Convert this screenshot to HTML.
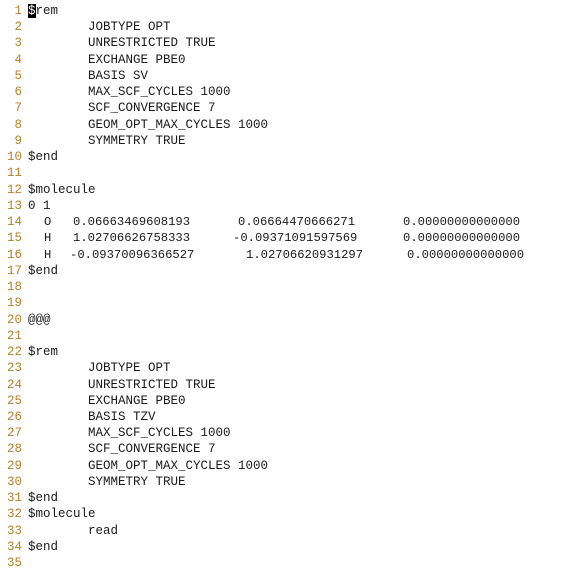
<!DOCTYPE html>
<html><head><meta charset="utf-8"><style>
html,body{margin:0;padding:0;background:#fff;width:573px;height:577px;overflow:hidden}
.l{position:absolute;left:0;height:16px;font-family:"Liberation Mono",monospace;font-size:12.5px;line-height:16px;color:#1a1a1a;white-space:pre}
.n{position:absolute;right:551px;color:#b5812e;text-align:right}
.t{position:absolute;left:28px}
.i{position:absolute;left:88px}
.m{position:absolute;font-size:12.2px}
.cur{background:#000;color:#fff}
</style></head><body>
<div id="c"></div>
<script>
var L=["<span class='cur'>$</span>rem","\tJOBTYPE OPT","\tUNRESTRICTED TRUE","\tEXCHANGE PBE0","\tBASIS SV","\tMAX_SCF_CYCLES 1000","\tSCF_CONVERGENCE 7","\tGEOM_OPT_MAX_CYCLES 1000","\tSYMMETRY TRUE","$end","","$molecule","0 1",
"M|O|0.06663469608193|73|0.06664470666271|238|0.00000000000000|403",
"M|H|1.02706626758333|73|-0.09371091597569|233|0.00000000000000|403",
"M|H|-0.09370096366527|70|1.02706620931297|246|0.00000000000000|407",
"$end","","","@@@","","$rem","\tJOBTYPE OPT","\tUNRESTRICTED TRUE","\tEXCHANGE PBE0","\tBASIS TZV","\tMAX_SCF_CYCLES 1000","\tSCF_CONVERGENCE 7","\tGEOM_OPT_MAX_CYCLES 1000","\tSYMMETRY TRUE","$end","$molecule","\tread","$end",""];
var h="";
for(var k=0;k<L.length;k++){
 var y=Math.round(3+k*16.24);var s=L[k];var body;
 if(s.indexOf("M|")==0){var p=s.split("|");
  body="<span class='m' style='left:44px'>"+p[1]+"</span><span class='m' style='left:"+p[3]+"px'>"+p[2]+"</span><span class='m' style='left:"+p[5]+"px'>"+p[4]+"</span><span class='m' style='left:"+p[7]+"px'>"+p[6]+"</span>";}
 else if(s[0]=="\t"){body="<span class='i'>"+s.slice(1)+"</span>";}
 else body="<span class='t'>"+s+"</span>";
 h+="<div class='l' style='top:"+y+"px;width:573px'><span class='n'>"+(k+1)+"</span>"+body+"</div>";
}
document.getElementById("c").innerHTML=h;
</script>
</body></html>
